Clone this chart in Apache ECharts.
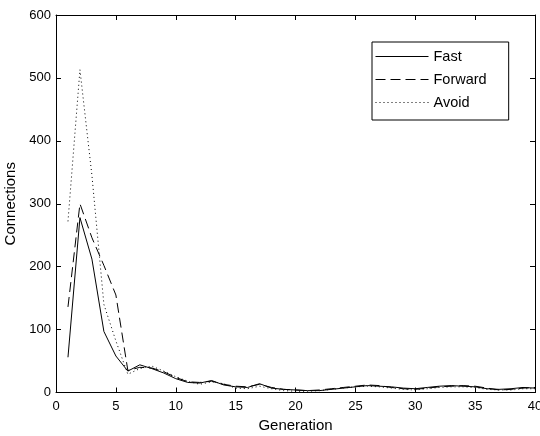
<!DOCTYPE html>
<html>
<head>
<meta charset="utf-8">
<script src="https://cdn.jsdelivr.net/npm/echarts@6/dist/echarts.min.js"></script>
<style>html,body{margin:0;padding:0;background:#fff}#c{width:540px;height:436px}</style>
</head>
<body>
<div id="c"></div>
<script>
var generations = [1,2,3,4,5,6,7,8,9,10,11,12,13,14,15,16,17,18,19,20,21,22,23,24,25,26,27,28,29,30,31,32,33,34,35,36,37,38,39,40];
var fast    = [56, 278, 212, 97, 58, 34, 44, 38, 31, 22, 16, 15, 19, 12, 9, 8, 14, 7, 5, 4, 3, 3, 5, 7, 9, 11, 10, 9, 7, 6, 8, 10, 11, 10, 9, 6, 5, 6, 8, 7];
var forward = [136, 300, 246, 202, 155, 35, 40, 39, 33, 24, 17, 16, 18, 13, 10, 9, 13, 8, 5, 4, 3, 4, 6, 8, 10, 12, 11, 8, 6, 5, 7, 9, 10, 11, 10, 7, 4, 5, 7, 8];
var avoid   = [272, 513, 345, 140, 82, 29, 38, 42, 34, 25, 18, 13, 17, 14, 7, 6, 10, 6, 3, 2, 2, 3, 5, 7, 9, 10, 9, 7, 5, 4, 6, 8, 9, 9, 8, 5, 4, 4, 6, 6];
var seriesNames = ['Fast', 'Forward', 'Avoid'];
var xTitle = 'Generation';
var yTitle = 'Connections';

function pairs(vals){ return generations.map(function(g,i){ return [g, vals[i]]; }); }

var font = 'Arial, "Liberation Sans", sans-serif';
var chart = echarts.init(document.getElementById('c'), null, {renderer:'canvas'});
var axisLine = {show:true, onZero:false, lineStyle:{color:'#000', width:1}};
var tick = {show:true, inside:true, length:5, lineStyle:{color:'#000'}};
chart.setOption({
  animation:false,
  backgroundColor:'#fff',
  grid:{left:56, right:5, top:15, bottom:43.5, containLabel:false, outerBoundsMode:'none'},
  legend:{
    orient:'vertical', left:372, top:42,
    data:seriesNames,
    itemWidth:53, itemHeight:14, itemGap:8, itemTextGap:7,
    padding:[7,22,10,3],
    borderColor:'#000', borderWidth:1, backgroundColor:'#fff', borderRadius:0,
    itemStyle:{color:'rgba(0,0,0,0)', borderWidth:0, opacity:0},
    lineStyle:{width:1},
    textStyle:{fontFamily:font, fontSize:14.5, color:'#000'}
  },
  xAxis:[{
    type:'value', min:0, max:40, interval:5, position:'bottom',
    name:xTitle, nameLocation:'middle', nameGap:26,
    nameTextStyle:{fontFamily:font, fontSize:15, color:'#000'},
    axisLine:axisLine, axisTick:tick, splitLine:{show:false},
    axisLabel:{fontFamily:font, fontSize:13, color:'#000', margin:7}
  },{
    type:'value', min:0, max:40, interval:5, position:'top',
    axisLine:axisLine, axisTick:tick, splitLine:{show:false}, axisLabel:{show:false}
  }],
  yAxis:[{
    type:'value', min:0, max:600, interval:100, position:'left',
    name:yTitle, nameLocation:'middle', nameGap:34,
    nameTextStyle:{fontFamily:font, fontSize:15, color:'#000'},
    axisLine:axisLine, axisTick:tick, splitLine:{show:false},
    axisLabel:{fontFamily:font, fontSize:13, color:'#000', margin:5}
  },{
    type:'value', min:0, max:600, interval:100, position:'right',
    axisLine:axisLine, axisTick:tick, splitLine:{show:false}, axisLabel:{show:false}
  }],
  series:[
    {name:seriesNames[0], type:'line', data:pairs(fast), showSymbol:false, symbol:'none',
     lineStyle:{color:'#000', width:1, type:'solid'}, itemStyle:{color:'#000'}},
    {name:seriesNames[1], type:'line', data:pairs(forward), showSymbol:false, symbol:'none',
     lineStyle:{color:'#000', width:1, type:[10,5]}, itemStyle:{color:'#000'}},
    {name:seriesNames[2], type:'line', data:pairs(avoid), showSymbol:false, symbol:'none',
     lineStyle:{color:'#000', width:1, type:[1,3]}, itemStyle:{color:'#000'}}
  ]
});
</script>
</body>
</html>
